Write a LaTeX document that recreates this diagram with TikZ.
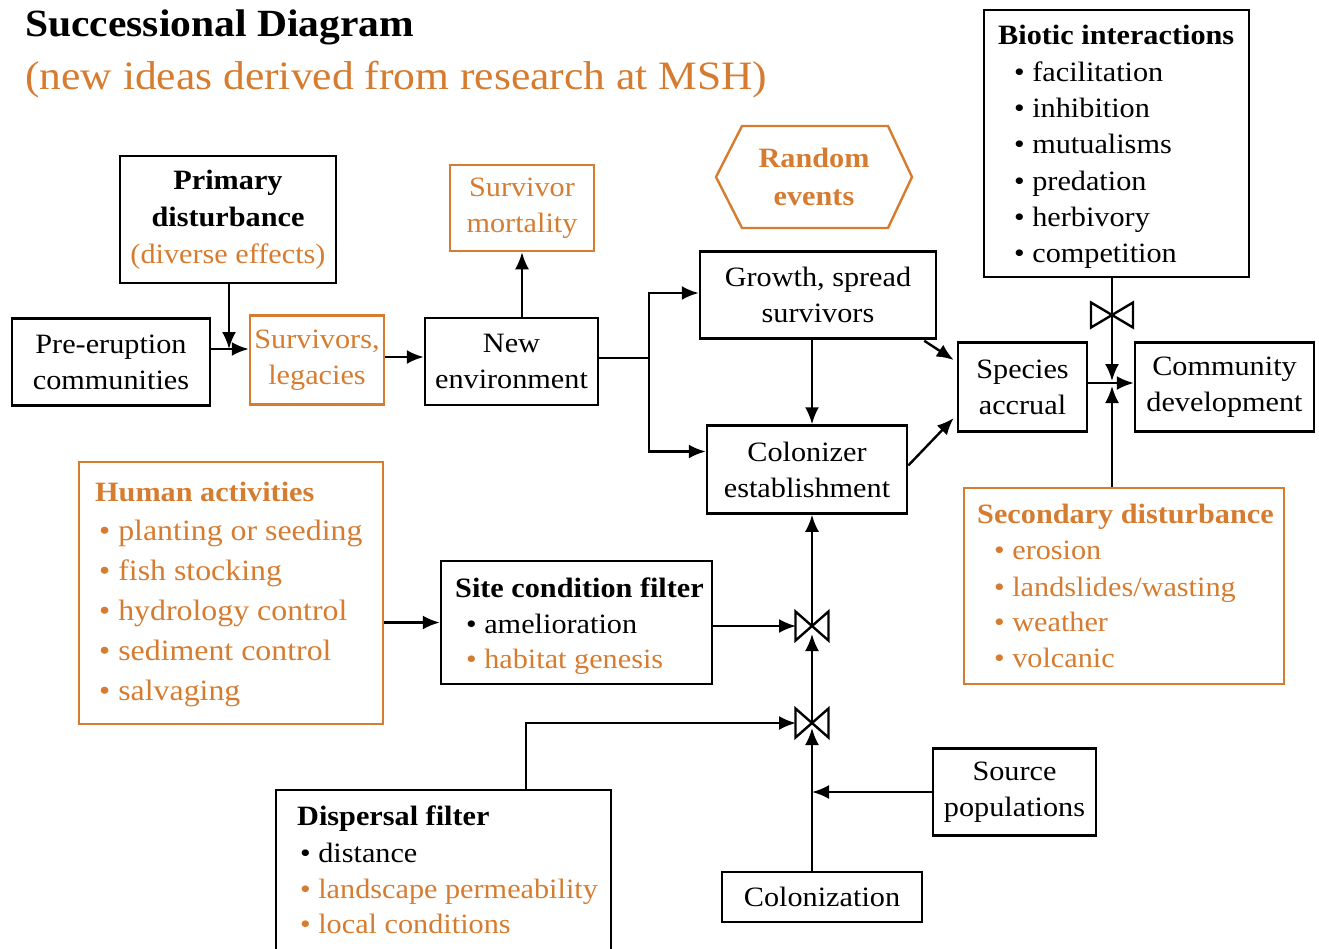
\documentclass[tikz,border=0pt]{standalone}
\usepackage{fontspec}
\setmainfont{Liberation Serif}[FakeStretch=1.08]
\usetikzlibrary{arrows.meta,calc}
\definecolor{msh}{RGB}{214,124,48}
\newcommand\myfs{\fontsize{28}{36}\selectfont}
\begin{document}
\begin{tikzpicture}[x=1pt,y=-1pt,
  box/.style={draw, line width=2.5pt, inner sep=0pt, align=center, font=\myfs},
  obox/.style={box, draw=msh, text=msh},
  arr/.style={line width=2.4pt, -{Latex[length=17pt,width=14pt]}},
  ln/.style={line width=2.4pt},
  lst/.style={anchor=base west, inner sep=0pt, font=\myfs},
  ttl/.style={lst, font=\myfs\bfseries},
  pics/bowtie/.style n args={2}{code={\draw[line width=2.4pt, fill=white]
     (-#1,-#2) -- (#1,#2) -- (#1,-#2) -- (-#1,#2) -- cycle;}},
]
\useasboundingbox (0,0) rectangle (1319,948);

% titles
\node[anchor=base west, inner sep=0pt, font=\bfseries\fontsize{38.5}{42}\selectfont] (title) at (25,36) {Successional Diagram};
\node[anchor=base west, inner sep=0pt, text=msh, font=\fontsize{40.3}{44}\selectfont] (subtitle) at (25,89) {(new ideas derived from research at MSH)};

% simple boxes
\node[box, minimum width=216, minimum height=127, font=\fontsize{28}{37}\selectfont] (prim) at (228,219.5)
  {\textbf{Primary}\\\textbf{disturbance}\\\textcolor{msh}{(diverse effects)}};
\node[box, minimum width=198, minimum height=87] (pre) at (111,362) {Pre-eruption\\communities};
\node[obox, minimum width=134, minimum height=89] (surv) at (317,360) {Survivors,\\legacies};
\node[box, minimum width=173, minimum height=87] (newenv) at (511.5,361.5) {New\\environment};
\node[obox, minimum width=144, minimum height=86] (mort) at (522,208) {Survivor\\mortality};
\draw[msh, line width=2.4pt] (716,177) -- (742,126) -- (888,126) -- (912,177) -- (888,228) -- (742,228) -- cycle;
\node[inner sep=0pt, align=center, text=msh, font=\fontsize{28}{38}\selectfont\bfseries] (rand) at (814,177) {Random\\events};
\node[box, minimum width=236, minimum height=87] (growth) at (818,295) {Growth, spread\\survivors};
\node[box, minimum width=200, minimum height=88] (colz) at (807,469.5) {Colonizer\\establishment};
\node[box, minimum width=129, minimum height=89] (spec) at (1022.5,387) {Species\\accrual};
\node[box, minimum width=179, minimum height=89] (comm) at (1224.5,387) {Community\\development};
\node[box, minimum width=163, minimum height=87] (src) at (1014.5,792) {Source\\populations};
\node[box, minimum width=200, minimum height=50] (colon) at (822,897) {Colonization};

% list boxes
\node[box, minimum width=265, minimum height=267] (bio) at (1116.5,143.5) {};
\node[ttl] (bio0) at (998,44) {Biotic interactions};
\node[lst] (bio1) at (1014,81) {\textbullet\ facilitation};
\node[lst] (bio2) at (1014,117) {\textbullet\ inhibition};
\node[lst] (bio3) at (1014,153) {\textbullet\ mutualisms};
\node[lst] (bio4) at (1014,190) {\textbullet\ predation};
\node[lst] (bio5) at (1014,226) {\textbullet\ herbivory};
\node[lst] (bio6) at (1014,262) {\textbullet\ competition};

\node[obox, minimum width=304, minimum height=262] (hum) at (231,593) {};
\node[ttl, text=msh] (hum0) at (95,501) {Human activities};
\begin{scope}[every node/.style={lst, text=msh, font=\fontsize{29.5}{40}\selectfont}]
\node (hum1) at (99,540) {\textbullet\ planting or seeding};
\node (hum2) at (99,580) {\textbullet\ fish stocking};
\node (hum3) at (99,620) {\textbullet\ hydrology control};
\node (hum4) at (99,660) {\textbullet\ sediment control};
\node (hum5) at (99,700) {\textbullet\ salvaging};
\end{scope}

\node[obox, minimum width=320, minimum height=196] (sec) at (1124,586) {};
\node[ttl, text=msh] (sec0) at (977,523) {Secondary disturbance};
\node[lst, text=msh] (sec1) at (994,559) {\textbullet\ erosion};
\node[lst, text=msh] (sec2) at (994,596) {\textbullet\ landslides/wasting};
\node[lst, text=msh] (sec3) at (994,631) {\textbullet\ weather};
\node[lst, text=msh] (sec4) at (994,667) {\textbullet\ volcanic};

\node[box, minimum width=271, minimum height=123] (site) at (576.5,622.5) {};
\node[ttl] (site0) at (455,597) {Site condition filter};
\node[lst] (site1) at (466,633) {\textbullet\ amelioration};
\node[lst, text=msh] (site2) at (466,668) {\textbullet\ habitat genesis};

\node[box, minimum width=335, minimum height=162] (disp) at (443.5,871) {};
\node[ttl] (disp0) at (297,825) {Dispersal filter};
\node[lst] (disp1) at (300,862) {\textbullet\ distance};
\node[lst, text=msh] (disp2) at (300,898) {\textbullet\ landscape permeability};
\node[lst, text=msh] (disp3) at (300,933) {\textbullet\ local conditions};

% valves
\coordinate (v0) at (1112,315);
\coordinate (v1) at (812,626);
\coordinate (v2) at (812,723);
\coordinate (jc) at (1112,383);
\coordinate (j1) at (229,349);
\coordinate (sp) at (649,358);
\coordinate (cx) at (812,0);
\pic at (v0) {bowtie={21}{12.5}};
\pic at (v1) {bowtie={16.5}{14.5}};
\pic at (v2) {bowtie={16.5}{14.5}};

% connectors
\draw[arr] (prim.south -| j1) -- (j1);
\draw[arr] (pre.east |- j1) -- (surv.west |- j1);
\draw[arr] ($(surv.east)+(0,-3)$) -- ($(newenv.west |- surv.east)+(0,-3)$);
\draw[arr] (newenv.north -| mort.south) -- (mort.south);
\draw[ln] (newenv.east |- sp) -- (sp);
\draw[arr] (sp) |- ($(growth.west)+(0,-2)$);
\draw[arr] (sp) |- ($(colz.west)+(0,-18)$);
\draw[arr] (growth.south -| cx) -- (colz.north -| cx);
\draw[arr] ($(growth.south east)+(-13,1)$) -- ($(spec.west)+(-3,-27)$);
\draw[arr] ($(colz.east)+(0,-4)$) -- ($(spec.west)+(-3,31)$);
\draw[arr] (spec.east |- jc) -- (comm.west |- jc);
\draw[ln] (bio.south -| v0) -- (v0);
\draw[arr] (v0) -- ($(jc)+(0,-2)$);
\draw[arr] (sec.north -| jc) -- ($(jc)+(0,3)$);
\draw[arr] (hum.east |- site.west) -- (site.west);
\draw[arr] (site.east |- v1) -- ($(v1)+(-16,0)$);
\draw[arr] (v2) -- ($(v1)+(0,8)$);
\draw[arr] (v1) -- (colz.south -| v1);
\draw[arr] (colon.north -| v2) -- ($(v2)+(0,5)$);
\draw[arr] ($(disp.north)+(82.5,0)$) |- ($(v2)+(-16,0)$);
\draw[arr] (src.west) -- (src.west -| v2);
\end{tikzpicture}
\end{document}
